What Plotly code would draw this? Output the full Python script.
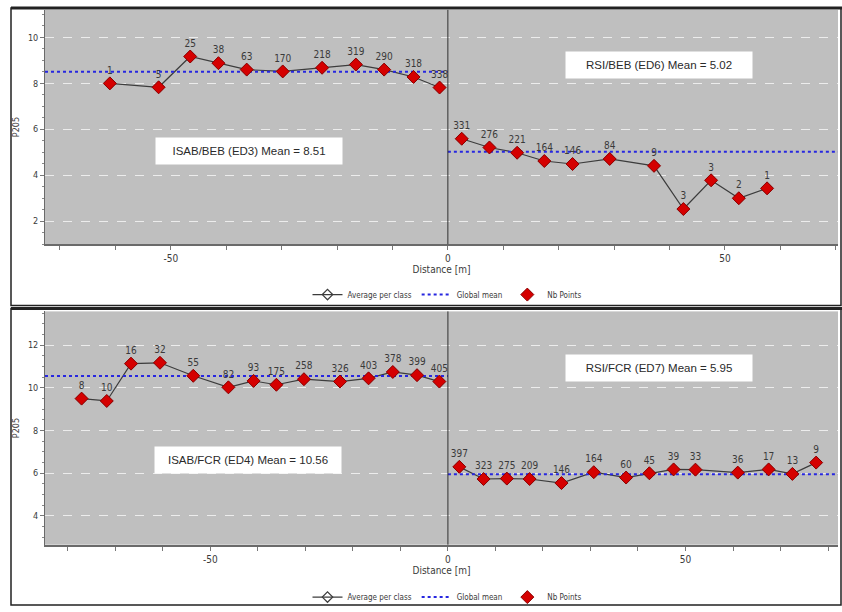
import plotly.graph_objects as go

W, H = 842, 612

# ---- ISAB/BEB (ED3): left of the interface, top panel
ed3_x = [-61.0, -52.2, -46.5, -41.4, -36.3, -29.8, -22.7, -16.6, -11.5, -6.2, -1.5]
ed3_y = [8.00, 7.83, 9.17, 8.88, 8.60, 8.52, 8.68, 8.82, 8.60, 8.28, 7.82]
ed3_n = [1, 5, 25, 38, 63, 170, 218, 319, 290, 318, 338]
ed3_mean = 8.51

# ---- RSI/BEB (ED6): right of the interface, top panel
ed6_x = [2.5, 7.5, 12.5, 17.4, 22.5, 29.2, 37.2, 42.5, 47.5, 52.5, 57.6]
ed6_y = [5.59, 5.21, 4.98, 4.62, 4.49, 4.71, 4.41, 2.53, 3.78, 3.00, 3.43]
ed6_n = [331, 276, 221, 164, 146, 84, 9, 3, 3, 2, 1]
ed6_mean = 5.02

# ---- ISAB/FCR (ED4): left of the interface, bottom panel
ed4_x = [-77.1, -71.8, -66.7, -60.6, -53.6, -46.2, -40.9, -36.1, -30.3, -22.7, -16.7, -11.6, -6.5, -1.8]
ed4_y = [9.50, 9.39, 11.14, 11.18, 10.57, 10.03, 10.33, 10.15, 10.41, 10.30, 10.45, 10.75, 10.60, 10.30]
ed4_n = [8, 10, 16, 32, 55, 82, 93, 175, 258, 326, 403, 378, 399, 405]
ed4_mean = 10.56

# ---- RSI/FCR (ED7): right of the interface, bottom panel
ed7_x = [2.4, 7.5, 12.4, 17.2, 23.9, 30.7, 37.5, 42.4, 47.5, 52.1, 61.0, 67.5, 72.5, 77.5]
ed7_y = [6.30, 5.73, 5.75, 5.73, 5.54, 6.05, 5.80, 6.00, 6.18, 6.17, 6.03, 6.18, 5.97, 6.50]
ed7_n = [397, 323, 275, 209, 146, 164, 60, 45, 39, 33, 36, 17, 13, 9]
ed7_mean = 5.95

top_xrange = [-72.7, 70.4]
top_yrange = [1.0, 11.2]
bot_xrange = [-84.8, 82.1]
bot_yrange = [2.65, 13.59]

x_tick_step = 10
x_label_step = 50


def px(x):
    return x / W


def py(y):
    return 1 - y / H


LINE_C = "#3c3c3c"
RED = "#d50000"
BLUE = "#2727e0"
TXT = "#3a3a3a"
FONT = "Liberation Sans Narrow, DejaVu Sans Condensed, Liberation Sans, sans-serif"

fig = go.Figure()


def add_side(xs, ys, ns, mean, mean_span, xa, ya, legend, show):
    fig.add_trace(go.Scatter(
        x=xs, y=ys, mode="lines+markers", name="Average per class",
        line=dict(color=LINE_C, width=1.2),
        marker=dict(symbol="diamond-open", size=8, color=LINE_C, line=dict(width=1.2)),
        xaxis=xa, yaxis=ya, legend=legend, showlegend=show,
        legendgroup=legend + "avg"))
    fig.add_trace(go.Scatter(
        x=mean_span, y=[mean, mean], mode="lines", name="Global mean",
        line=dict(color=BLUE, width=2, dash="dot"),
        xaxis=xa, yaxis=ya, legend=legend, showlegend=show,
        legendgroup=legend + "mean"))
    fig.add_trace(go.Scatter(
        x=xs, y=ys, mode="markers+text", name="Nb Points",
        marker=dict(symbol="diamond", size=10, color=RED,
                    line=dict(color="#8a0000", width=1)),
        text=[str(n) for n in ns], textposition="top center",
        textfont=dict(family=FONT, size=10, color=TXT),
        xaxis=xa, yaxis=ya, legend=legend, showlegend=show,
        legendgroup=legend + "nb"))


# Top panel
add_side(ed3_x, ed3_y, ed3_n, ed3_mean, [top_xrange[0], 0], "x", "y", "legend", True)
add_side(ed6_x, ed6_y, ed6_n, ed6_mean, [0, top_xrange[1]], "x", "y", "legend", False)
# Bottom panel
add_side(ed4_x, ed4_y, ed4_n, ed4_mean, [bot_xrange[0], 0], "x2", "y2", "legend2", True)
add_side(ed7_x, ed7_y, ed7_n, ed7_mean, [0, bot_xrange[1]], "x2", "y2", "legend2", False)


def xaxis_cfg(rng, anchor):
    vals = list(range(-90, 91, x_tick_step))
    txt = [str(v) if v % x_label_step == 0 else "" for v in vals]
    return dict(
        domain=[px(45), px(838)], range=rng, anchor=anchor,
        showgrid=False, zeroline=False,
        showline=True, linecolor="#6a6a6a", linewidth=2,
        ticks="outside", ticklen=4, tickcolor="#777",
        tickvals=vals, ticktext=txt,
        tickfont=dict(family=FONT, size=10, color=TXT),
        title=dict(text="Distance [m]", font=dict(family=FONT, size=10, color=TXT), standoff=2),
    )


def yaxis_cfg(rng, dom, anchor):
    return dict(
        domain=dom, range=rng, anchor=anchor,
        dtick=2, tick0=0,
        showgrid=True, gridcolor="#ececec", griddash="dash", gridwidth=1,
        zeroline=False, showline=True, linecolor="#6a6a6a", linewidth=1,
        ticks="outside", ticklen=4, tickcolor="#777",
        minor=dict(dtick=0.5, ticks="outside", ticklen=2, tickcolor="#888", showgrid=False),
        tickfont=dict(family=FONT, size=9, color=TXT),
        title=dict(text="P205", font=dict(family=FONT, size=9, color=TXT), standoff=6),
    )


legend_style = dict(orientation="h", xanchor="center", yanchor="middle",
                    font=dict(family=FONT, size=8, color=TXT), bgcolor="rgba(0,0,0,0)",
                    itemwidth=30, tracegroupgap=0)

fig.update_layout(
    width=W, height=H,
    margin=dict(l=0, r=0, t=0, b=0),
    paper_bgcolor="white", plot_bgcolor="#bfbfbf",
    font=dict(family=FONT, color=TXT),
    xaxis=xaxis_cfg(top_xrange, "y"),
    yaxis=yaxis_cfg(top_yrange, [py(247), py(10)], "x"),
    xaxis2=xaxis_cfg(bot_xrange, "y2"),
    yaxis2=yaxis_cfg(bot_yrange, [py(551), py(315)], "x2"),
    legend=dict(x=px(447), y=py(298), **legend_style),
    legend2=dict(x=px(447), y=py(604), **legend_style),
)

shapes = []
# Panel frames
for y0, y1 in [(8, 309), (312, 612)]:
    shapes.append(dict(type="rect", xref="paper", yref="paper",
                       x0=px(11), x1=px(841), y0=py(y1), y1=py(y0),
                       line=dict(color="#222", width=1.5), layer="below"))
    shapes.append(dict(type="line", xref="paper", yref="paper",
                       x0=px(11), x1=1, y0=py(y0), y1=py(y0),
                       line=dict(color="#222", width=3)))
# Interface line at distance 0
for xa, ya in [("x", "y"), ("x2", "y2")]:
    shapes.append(dict(type="line", xref=xa, yref=ya + " domain",
                       x0=0, x1=0, y0=0, y1=1, line=dict(color="#303030", width=1)))
fig.update_layout(shapes=shapes)

# Zone labels
labels = [
    ("ISAB/BEB (ED3) Mean = 8.51", 248.7, 152.4),
    ("RSI/BEB (ED6) Mean = 5.02", 659, 65.3),
    ("ISAB/FCR (ED4) Mean = 10.56", 248, 465),
    ("RSI/FCR (ED7) Mean = 5.95", 659, 371.8),
]
for text, cx, cy in labels:
    fig.add_annotation(text=text, xref="paper", yref="paper", x=px(cx), y=py(cy),
                       xanchor="center", yanchor="middle", showarrow=False,
                       width=184, height=24, bgcolor="white",
                       font=dict(family="Liberation Sans, Arial, sans-serif", size=11.5, color="#2a2a2a"))

fig.write_html("out.html")
